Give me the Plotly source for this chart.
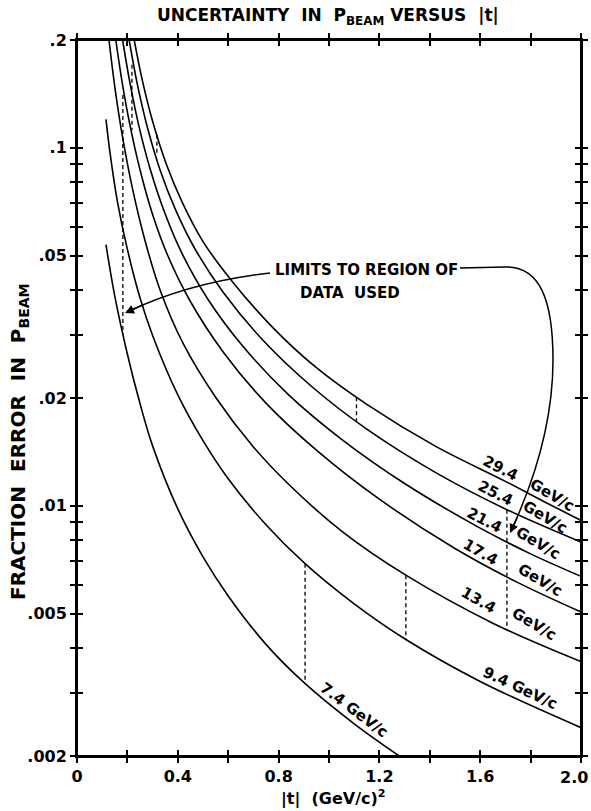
import math
import plotly.graph_objects as go

# ---------------- data ----------------
momenta = ["7.4", "9.4", "13.4", "17.4", "21.4", "25.4", "29.4"]

t_74 = [0.115, 0.15, 0.20, 0.25, 0.30, 0.40, 0.50, 0.60, 0.75, 0.90, 1.10, 1.279]
err_74 = [0.0536, 0.0385, 0.0265, 0.0193, 0.0147, 0.0098, 0.0072, 0.0056, 0.0041, 0.00321, 0.00246, 0.0020]

t_94 = [0.115, 0.13, 0.16, 0.20, 0.25, 0.30, 0.40, 0.50, 0.60, 0.75, 0.905, 1.10, 1.305, 1.60, 2.0]
err_94 = [0.120, 0.098, 0.071, 0.052, 0.0381, 0.0299, 0.0204, 0.0152, 0.0119, 0.00885, 0.00689,
          0.00532, 0.00423, 0.00323, 0.0024]

t_134 = [0.127, 0.15, 0.18, 0.22, 0.27, 0.33, 0.42, 0.55, 0.70, 0.85, 1.05, 1.305, 1.65, 2.0]
err_134 = [0.2, 0.148, 0.108, 0.077, 0.055, 0.040, 0.0285, 0.0201, 0.0146, 0.0113, 0.0085,
           0.0064, 0.0047, 0.00367]

t_174 = [0.154, 0.18, 0.21, 0.25, 0.30, 0.36, 0.45, 0.58, 0.75, 0.95, 1.2, 1.5, 1.75, 2.0]
err_174 = [0.2, 0.151, 0.1158, 0.0868, 0.0651, 0.050, 0.0372, 0.0269, 0.01935, 0.0143, 0.01043,
           0.0076, 0.0061, 0.00505]

t_214 = [0.181, 0.21, 0.245, 0.29, 0.35, 0.42, 0.52, 0.66, 0.84, 1.05, 1.3, 1.6, 1.8, 2.0]
err_214 = [0.2, 0.152, 0.1155, 0.0874, 0.0653, 0.0501, 0.0377, 0.0278, 0.0204, 0.01533, 0.01154,
           0.00866, 0.00734, 0.00635]

t_254 = [0.207, 0.24, 0.28, 0.33, 0.39, 0.47, 0.58, 0.74, 0.93, 1.15, 1.42, 1.7, 2.0]
err_254 = [0.2, 0.1499, 0.1136, 0.0866, 0.0674, 0.0519, 0.0395, 0.0289, 0.02157, 0.01637, 0.01242,
           0.0098, 0.00792]

t_294 = [0.227, 0.26, 0.30, 0.355, 0.42, 0.50, 0.62, 0.78, 0.95, 1.15, 1.42, 1.7, 1.85, 2.0]
err_294 = [0.2, 0.1535, 0.1186, 0.0898, 0.0698, 0.0547, 0.042, 0.0313, 0.0243, 0.0192, 0.0147,
           0.0117, 0.0103, 0.0091]

# dashed "limits to region of data used" segments: |t|, upper error, lower error
limit_t = [0.182, 0.218, 0.317, 0.905, 1.305, 1.706, 1.109]
limit_top = [0.1404, 0.1706, 0.1087, 0.00689, 0.0064, 0.00975, 0.0201]
limit_bottom = [0.030, 0.1121, 0.0956, 0.00321, 0.00423, 0.0045, 0.0172]

x_ticks = [0, 0.2, 0.4, 0.6, 0.8, 1.0, 1.2, 1.4, 1.6, 1.8, 2.0]
x_ticktext = ["0", " ", "0.4", " ", "0.8", " ", "1.2", " ", "1.6", " ", " "]
x_last_label = "2.0"
y_ticks = [0.2, 0.1, 0.09, 0.08, 0.07, 0.06, 0.05, 0.04, 0.03, 0.02, 0.01,
           0.009, 0.008, 0.007, 0.006, 0.005, 0.004, 0.003, 0.002]
y_ticktext = [".2", ".1", " ", " ", " ", " ", ".05", " ", " ", ".02", ".01",
              " ", " ", " ", " ", ".005", " ", " ", ".002"]

curves = [(t_74, err_74), (t_94, err_94), (t_134, err_134), (t_174, err_174),
          (t_214, err_214), (t_254, err_254), (t_294, err_294)]

# ---------------- layout geometry ----------------
W, H = 591, 811
ML, MR, MT, MB = 77, 10, 40, 55
PW, PH = W - ML - MR, H - MT - MB
FONT = "DejaVu Sans"


def pp(px, py):
    return (px - ML) / PW, (H - MB - py) / PH


fig = go.Figure()

for (tt, ee), p in zip(curves, momenta):
    fig.add_trace(go.Scatter(x=tt, y=ee, mode="lines", name=p + " GeV/c",
                             line=dict(color="black", width=1.6, shape="spline", smoothing=1.0),
                             hoverinfo="skip", showlegend=False))

for xt, yt, yb in zip(limit_t, limit_top, limit_bottom):
    fig.add_trace(go.Scatter(x=[xt, xt], y=[yt, yb], mode="lines",
                             line=dict(color="black", width=1.3, dash="4px,3px"),
                             hoverinfo="skip", showlegend=False))

# invisible trace for overlay axes (outer tick halves + labels)
fig.add_trace(go.Scatter(x=[1.0], y=[0.02], xaxis="x2", yaxis="y2", mode="markers",
                         marker=dict(opacity=0), hoverinfo="skip", showlegend=False))

yr = [math.log10(0.002), math.log10(0.2)]
common_x = dict(range=[0, 2.0], tickvals=x_ticks, ticktext=x_ticktext, showgrid=False,
                zeroline=False, tickcolor="black", tickwidth=1.5, ticklen=6, automargin=False)
common_y = dict(type="log", range=yr, tickvals=y_ticks, ticktext=y_ticktext, showgrid=False,
                zeroline=False, tickcolor="black", tickwidth=1.5, ticklen=6, automargin=False)
tick_font = dict(family=FONT, size=16, color="black", weight="bold")

fig.update_layout(
    width=W, height=H,
    margin=dict(l=ML, r=MR, t=MT, b=MB, autoexpand=False),
    paper_bgcolor="white", plot_bgcolor="white",
    font=dict(family=FONT, size=16, color="black", weight="bold"),
    xaxis=dict(**common_x, ticks="inside", mirror="ticks", showline=True, linecolor="black",
               linewidth=2, showticklabels=False),
    yaxis=dict(**common_y, ticks="inside", mirror="ticks", showline=True, linecolor="black",
               linewidth=2, showticklabels=False),
    xaxis2=dict(**common_x, ticks="outside", mirror="ticks", showline=False, overlaying="x",
                anchor="y2", side="bottom", showticklabels=True, tickfont=tick_font),
    yaxis2=dict(**common_y, ticks="outside", mirror="ticks", showline=False, overlaying="y",
                anchor="x2", side="left", showticklabels=True, tickfont=tick_font),
)

ann = []


def text(px, py, s, size=16, angle=0, xanchor="center"):
    x, y = pp(px, py)
    ann.append(dict(x=x, y=y, xref="paper", yref="paper", text=s, showarrow=False,
                    textangle=angle, xanchor=xanchor, yanchor="middle",
                    font=dict(family=FONT, size=size, color="black", weight="bold")))


text(574, 777, x_last_label, 16)
text(328, 17, "UNCERTAINTY  IN  P<sub>BEAM</sub> VERSUS  |t|", 17)
text(333, 798, "|t|  (GeV/c)<sup>2</sup>", 16)
text(19, 442, "FRACTION  ERROR  IN  P<sub>BEAM</sub>", 20, angle=-90)

text(366, 270, "LIMITS TO REGION OF", 15)
text(350, 293, "DATA  USED", 15)

labels = [
    (500, 468, "29.4", 27), (552, 495, "GeV/c", 31),
    (495, 493, "25.4", 27), (545, 517, "GeV/c", 31),
    (484, 520, "21.4", 27), (538, 543, "GeV/c", 31),
    (480, 552, "17.4", 30), (540, 580, "GeV/c", 31),
    (478, 600, "13.4", 30), (534, 624, "GeV/c", 31),
    (520, 688, "9.4 GeV/c", 25),
    (354, 710, "7.4 GeV/c", 37),
]
for px, py, s, a in labels:
    text(px, py, s, 15, angle=a)


def path(points_cmds):
    out = []
    for cmd, pts in points_cmds:
        coords = " ".join("%.5f,%.5f" % pp(a, b) for a, b in pts)
        out.append(cmd + " " + coords)
    return " ".join(out)


left_arrow = path([("M", [(270, 273)]), ("Q", [(190, 282), (127, 312)])])
right_arrow = path([("M", [(460, 268)]), ("L", [(505, 267)]),
                    ("C", [(540, 266), (553, 300), (553, 360)]),
                    ("C", [(553, 430), (530, 490), (511, 531)])])
shapes = [dict(type="rect", xref="paper", yref="paper", x0=0, x1=1, y0=0, y1=1,
               line=dict(color="black", width=2), layer="above")]
for pth in (left_arrow, right_arrow):
    shapes.append(dict(type="path", path=pth, xref="paper", yref="paper",
                       line=dict(color="black", width=1.5)))

for (tx, ty), (dx, dy) in [((125, 313), (20, -9)), ((510, 533), (8, -17))]:
    x, y = pp(tx, ty)
    ann.append(dict(x=x, y=y, xref="paper", yref="paper", ax=dx, ay=dy, axref="pixel",
                    ayref="pixel", showarrow=True, arrowhead=2, arrowsize=1.2,
                    arrowwidth=1.5, arrowcolor="black", text=""))

fig.update_layout(annotations=ann, shapes=shapes)

fig.write_html("out.html")
